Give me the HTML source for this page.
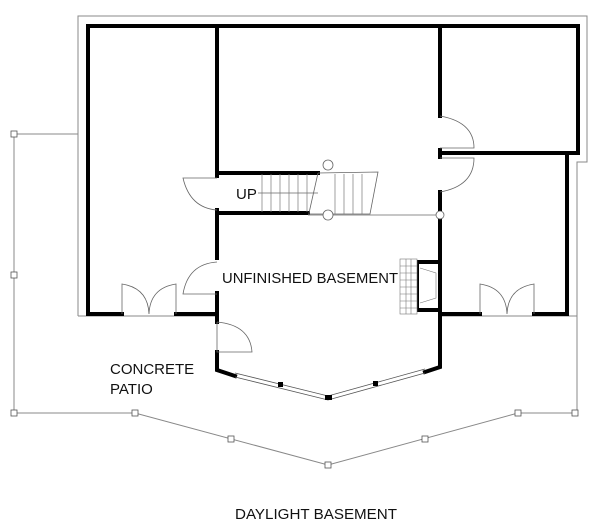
<!DOCTYPE html>
<html><head><style>
html,body{margin:0;padding:0;background:#fff;}
svg{display:block;}
text{font-family:"Liberation Sans",sans-serif;fill:#111;}
</style></head><body>
<svg width="600" height="522" viewBox="0 0 600 522" xmlns="http://www.w3.org/2000/svg">
<g fill="none" stroke="#888" stroke-width="1">
  <polyline points="78,134 78,16 587,16 587,162 577,162 577,413"/>
  <line x1="78" y1="316" x2="217" y2="316"/>
  <line x1="440" y1="316" x2="577" y2="316"/>
  <line x1="78" y1="134" x2="78" y2="316"/>
  <polyline points="78,134 14,134 14,413 135,413 328,465 518,413 577,413"/>
</g>
<g fill="#fff" stroke="#555" stroke-width="0.8">
  <rect x="11" y="131" width="6" height="6"/><rect x="11" y="272" width="6" height="6"/><rect x="11" y="410" width="6" height="6"/>
  <rect x="132" y="410" width="6" height="6"/><rect x="228" y="436" width="6" height="6"/><rect x="325" y="462" width="6" height="6"/>
  <rect x="422" y="436" width="6" height="6"/><rect x="515" y="410" width="6" height="6"/><rect x="572" y="410" width="6" height="6"/>
</g>
<g fill="none" stroke="#000" stroke-width="4" stroke-linecap="square">
  <polyline points="122,314 88,314 88,26 578,26 578,153 440,153"/>
  <line x1="176" y1="314" x2="217" y2="314"/>
  <line x1="217" y1="26" x2="217" y2="176"/>
  <line x1="217" y1="210" x2="217" y2="258"/>
  <line x1="217" y1="293" x2="217" y2="322"/>
  <polyline points="217,352 217,370 235,376"/>
  <line x1="217" y1="173" x2="318" y2="173"/>
  <line x1="217" y1="213" x2="308" y2="213"/>
  <line x1="440" y1="26" x2="440" y2="116"/>
  <line x1="440" y1="150" x2="440" y2="157"/>
  <line x1="440" y1="192" x2="440" y2="212"/>
  <polyline points="440,220 440,367 425,372"/>
  <polyline points="567,153 567,314 534,314"/>
  <line x1="440" y1="314" x2="480" y2="314"/>
  <polyline points="440,262 417,262 417,310 440,310"/>
</g>
<g stroke="#555" stroke-width="0.8" fill="none">
  <polyline points="235,373 328,396 425,369"/>
  <polyline points="235,377 328,400 425,373"/>
</g>
<g fill="#000">
  <rect x="278" y="382" width="5" height="5"/><rect x="373" y="381" width="5" height="5"/><rect x="325" y="395" width="7" height="5"/>
</g>
<g fill="none" stroke="#666" stroke-width="0.8">
  <path d="M217,178 L183,178 Q190,208 217,210"/>
  <path d="M217,262 Q188,264 183,294 L217,294"/>
  <path d="M217,322 L217,352 L252,352 Q250,325 217,322"/>
  <path d="M122,314 L122,284 Q148,288 149,314 Q150,288 176,284 L176,314"/>
  <path d="M480,314 L480,284 Q506,288 507,314 Q508,288 534,284 L534,314"/>
  <path d="M440,116 Q474,122 474,148 L440,148"/>
  <path d="M440,158 L474,158 Q474,186 440,192"/>
  <line x1="258" y1="193" x2="318" y2="193"/>
  <line x1="308" y1="215" x2="440" y2="215"/>
  <polyline points="318,173 378,172 370,214 308,214"/>
  <line x1="318" y1="173" x2="309" y2="213"/>
</g>
<g stroke="#777" stroke-width="0.7">
  <line x1="262" y1="174" x2="262" y2="212"/><line x1="271" y1="174" x2="271" y2="212"/><line x1="280" y1="174" x2="280" y2="212"/>
  <line x1="289" y1="174" x2="289" y2="212"/><line x1="298" y1="174" x2="298" y2="212"/><line x1="307" y1="174" x2="307" y2="212"/>
  <line x1="335" y1="174" x2="335" y2="214"/><line x1="344" y1="174" x2="344" y2="214"/><line x1="353" y1="174" x2="353" y2="214"/><line x1="362" y1="174" x2="362" y2="214"/>
</g>
<g fill="#fff" stroke="#666" stroke-width="0.8">
  <circle cx="328" cy="165" r="5"/><circle cx="328" cy="215" r="5"/><circle cx="440" cy="215" r="4"/>
</g>
<g stroke="#777" stroke-width="0.6" fill="#fff">
  <rect x="400" y="259" width="17" height="55"/>
  <line x1="406" y1="259" x2="406" y2="314"/><line x1="411" y1="259" x2="411" y2="314"/>
  <line x1="400" y1="266" x2="417" y2="266"/><line x1="400" y1="273" x2="417" y2="273"/><line x1="400" y1="280" x2="417" y2="280"/>
  <line x1="400" y1="287" x2="417" y2="287"/><line x1="400" y1="294" x2="417" y2="294"/><line x1="400" y1="301" x2="417" y2="301"/><line x1="400" y1="308" x2="417" y2="308"/>
  <polyline points="420,268 436,273 436,298 420,303" fill="none"/>
</g>
<text x="236" y="199" font-size="15">UP</text>
<text x="222" y="283" font-size="15" textLength="176" lengthAdjust="spacingAndGlyphs">UNFINISHED BASEMENT</text>
<text x="110" y="374" font-size="15">CONCRETE</text>
<text x="110" y="394" font-size="15">PATIO</text>
<text x="235" y="519" font-size="15" textLength="162" lengthAdjust="spacingAndGlyphs">DAYLIGHT BASEMENT</text>
</svg>
</body></html>
